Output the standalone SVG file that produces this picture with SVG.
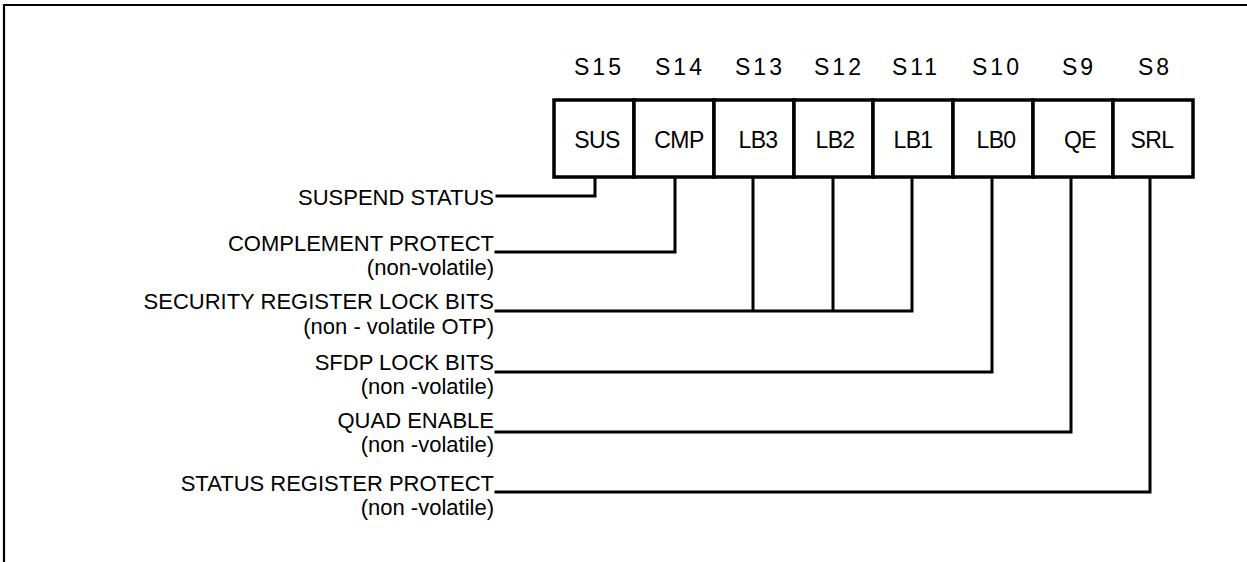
<svg xmlns="http://www.w3.org/2000/svg" width="1247" height="562" viewBox="0 0 1247 562">
<style>
.frame{fill:none;stroke:#000;stroke-width:2.2}
.cell{fill:#fff;stroke:#000;stroke-width:3.5}
.wire{fill:none;stroke:#000;stroke-width:3;stroke-linejoin:miter;stroke-linecap:square}
.hdr{font-family:"Liberation Sans",Arial,sans-serif;font-size:23px;letter-spacing:3px;text-anchor:middle;fill:#000}
.bit{font-family:"Liberation Sans",Arial,sans-serif;font-size:23px;letter-spacing:-0.6px;text-anchor:middle;fill:#000}
.lbl{font-family:"Liberation Sans",Arial,sans-serif;font-size:22px;letter-spacing:0px;text-anchor:end;fill:#000}
</style>
<rect width="1247" height="562" fill="#fff"/>
<path class="frame" d="M4,562 V5 H1247"/>
<g id="headers">
<text class="hdr" x="599" y="75">S15</text>
<text class="hdr" x="680" y="75">S14</text>
<text class="hdr" x="760" y="75">S13</text>
<text class="hdr" x="839" y="75">S12</text>
<text class="hdr" x="916" y="75">S11</text>
<text class="hdr" x="997" y="75">S10</text>
<text class="hdr" x="1079" y="75">S9</text>
<text class="hdr" x="1155" y="75">S8</text>
</g>
<g id="cell-SUS"><rect class="cell" x="554" y="100" width="80" height="77"/><text class="bit" x="597" y="148">SUS</text></g>
<g id="cell-CMP"><rect class="cell" x="634" y="100" width="80" height="77"/><text class="bit" x="679" y="148">CMP</text></g>
<g id="cell-LB3"><rect class="cell" x="714" y="100" width="80" height="77"/><text class="bit" x="758" y="148">LB3</text></g>
<g id="cell-LB2"><rect class="cell" x="794" y="100" width="79" height="77"/><text class="bit" x="835" y="148">LB2</text></g>
<g id="cell-LB1"><rect class="cell" x="873" y="100" width="80" height="77"/><text class="bit" x="913" y="148">LB1</text></g>
<g id="cell-LB0"><rect class="cell" x="953" y="100" width="80" height="77"/><text class="bit" x="996" y="148">LB0</text></g>
<g id="cell-QE"><rect class="cell" x="1033" y="100" width="80" height="77"/><text class="bit" x="1080" y="148">QE</text></g>
<g id="cell-SRL"><rect class="cell" x="1113" y="100" width="80" height="77"/><text class="bit" x="1152" y="148">SRL</text></g>
<g id="connectors">
<path class="wire" d="M595,178 V196 H497"/>
<path class="wire" d="M675,178 V252 H496"/>
<path class="wire" d="M753,178 V311 M833,178 V311 M912,178 V311 H496"/>
<path class="wire" d="M992,178 V372 H496"/>
<path class="wire" d="M1071,178 V432 H496"/>
<path class="wire" d="M1150,178 V492 H496"/>
</g>
<g id="label-sus"><text class="lbl" x="494" y="205">SUSPEND STATUS</text></g>
<g id="label-cmp"><text class="lbl" x="494" y="251">COMPLEMENT PROTECT</text><text class="lbl" x="494" y="275">(non-volatile)</text></g>
<g id="label-lb"><text class="lbl" x="494" y="309">SECURITY REGISTER LOCK BITS</text><text class="lbl" x="494" y="334">(non - volatile OTP)</text></g>
<g id="label-sfdp"><text class="lbl" x="494" y="370">SFDP LOCK BITS</text><text class="lbl" x="494" y="394">(non -volatile)</text></g>
<g id="label-qe"><text class="lbl" x="494" y="428">QUAD ENABLE</text><text class="lbl" x="494" y="452">(non -volatile)</text></g>
<g id="label-srl"><text class="lbl" x="494" y="491">STATUS REGISTER PROTECT</text><text class="lbl" x="494" y="515">(non -volatile)</text></g>
</svg>
